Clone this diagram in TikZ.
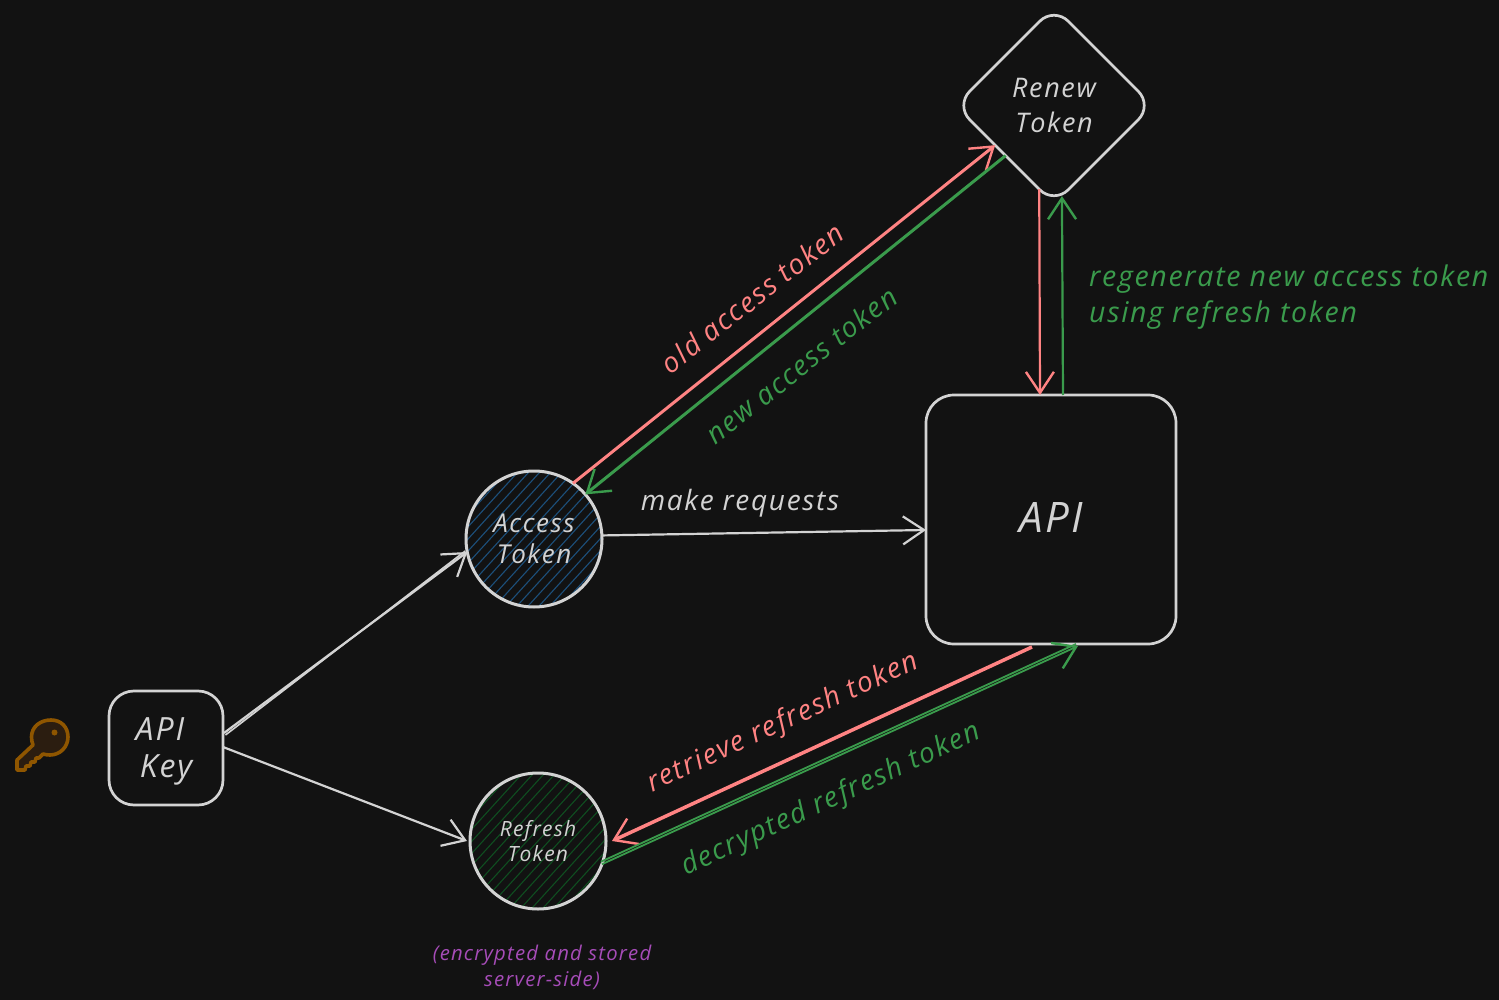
\documentclass[tikz,border=0pt]{standalone}
\usepackage{fontspec}
\setmainfont{Open Sans}
\usetikzlibrary{arrows.meta,shapes.geometric}
\definecolor{bg}{HTML}{121212}
\definecolor{ink}{HTML}{D3D3D3}
\definecolor{redl}{HTML}{FF8383}
\definecolor{greenl}{HTML}{3A9B4C}
\definecolor{purp}{HTML}{A64CB8}
\definecolor{amber}{HTML}{8F5600}
\definecolor{keyfill}{HTML}{2B1D10}
\definecolor{hblue}{HTML}{1C4F7A}
\definecolor{hgreen}{HTML}{0F4D20}
\tikzset{
  x=1pt,y=-1pt,
  hand/.style={font=\itshape\fontsize{#1}{#1}\selectfont\addfontfeature{LetterSpace=6}},
  box/.style={draw=ink,line width=2.7pt,rectangle,rounded corners=#1,outer sep=0pt,inner sep=0pt,text=ink,align=center},
  disc/.style={draw=ink,line width=3pt,circle,minimum size=136pt,outer sep=0pt,inner sep=0pt,text=ink,align=center},
  barb/.style={-{Straight Barb[length=21pt,width=28pt,line width=#1]}},
  wire/.style={draw=ink,line width=2.2pt,barb=2.2pt},
  wireplain/.style={draw=ink,line width=1.6pt},
  redw/.style={draw=redl,line width=#1,barb=2.4pt},
  greenw/.style={draw=greenl,line width=#1,barb=2.4pt},
  lab/.style={text=ink,inner sep=0pt},
  hatch/.style={path picture={
    \foreach \o in {-132,-121,...,132}
      \draw[#1,line width=1.1pt] ([xshift=\o pt-80pt,yshift=-88pt]path picture bounding box.center) -- ++(160pt,176pt);
  }}
}
\begin{document}
\begin{tikzpicture}
\useasboundingbox (0,0) rectangle (1499,1000);
\fill[bg] (0,0) rectangle (1499,1000);

% shapes
\node[box=28pt,minimum width=250pt,minimum height=249pt,hand=42] (api) at (1051,519.5) {\raisebox{2pt}[\height][\depth]{API}};
\node[box=25pt,minimum width=114pt,minimum height=114pt,hand=32] (apikey) at (166,748) {\raisebox{-3.5pt}[\height][\depth]{API}\hspace{12pt}\null\\[6pt]\raisebox{-3pt}[\height][\depth]{Key}};
\node[draw=ink,line width=2.7pt,diamond,aspect=1,rounded corners=20pt,minimum width=197pt,minimum height=197pt,outer sep=0pt,inner sep=0pt,text=ink,align=center,hand=27] (renew) at (1054,105.5) {Renew\\[8pt]Token};
\node[disc,hatch=hblue,hand=26] (access) at (534,539) {Access\\[5pt]Token};
\node[disc,hatch=hgreen,hand=21] (refresh) at (538,841) {Refresh\\[4pt]Token};

% connectors
\draw[wire] (apikey.east)+(1,-15) -- (access.191.6);
\draw[wireplain] ([shift={(2.5pt,13pt)}]apikey.east) -- ([shift={(-2pt,1pt)}]access.191.6);
\draw[wire] ([yshift=1pt]apikey.east) -- ([xshift=-3pt]refresh.180);
\draw[wire] (access.3.3) -- ([yshift=-10.5pt]api.west);

\draw[redw=3pt] (access.55.4) -- (renew.214.8);
\draw[greenw=3pt] (renew.226.8) -- (access.41.6);
\draw[redw=2.2pt] (renew.260.6) -- ([xshift=-11pt]api.north);
\draw[greenw=2.2pt] ([xshift=12pt]api.north) -- (renew.275.8);
\draw[redw=3.5pt] ([shift={(-19pt,-3pt)}]api.south) -- ([xshift=6pt]refresh.0);
\draw[greenw=1.8pt] (refresh.-20.7) -- ([shift={(27pt,-2pt)}]api.south);
\draw[draw=greenl,line width=1.8pt] ([shift={(-1pt,2.5pt)}]refresh.-20.7) -- ([shift={(25pt,0pt)}]api.south);

% connector labels
\node[text=redl,inner sep=0pt,rotate=38,hand=28] (l1) at (752,298) {old access token};
\node[text=greenl,inner sep=0pt,rotate=38,hand=28] (l2) at (801,365) {new access token};
\node[lab,hand=28] (l3) at (740,503) {make requests};
\node[text=redl,inner sep=0pt,rotate=25,hand=28] (l4) at (783,723) {retrieve refresh token};
\node[text=greenl,inner sep=0pt,rotate=25,hand=28] (l5) at (831,800) {decrypted refresh token};
\node[text=greenl,inner sep=0pt,anchor=west,align=left,hand=28.5] (l6) at (1089,297) {regenerate new access token\\[6.5pt]using refresh token};
\node[text=purp,inner sep=0pt,align=center,hand=20.3] (l7) at (542,967) {(encrypted and stored\\[4.7pt]server-side)};

% key icon
\draw[amber,line width=3.6pt,fill=keyfill,line join=round]
  (51,720) .. controls (61,720) and (68,727) .. (68,737)
  .. controls (68,747) and (60,755) .. (50,755)
  .. controls (47,755) and (45,754.5) .. (43,754)
  -- (39,758) -- (36,758) -- (35,762) -- (31,762) -- (30,766) -- (26,766) -- (25,770) -- (17,770) -- (17,760)
  -- (33,745)
  .. controls (32,742) and (31.5,740) .. (31.5,737)
  .. controls (31.5,727) and (40,720) .. (51,720) -- cycle;
\fill[amber] (54.5,732.5) circle (3pt);
\end{tikzpicture}
\end{document}
